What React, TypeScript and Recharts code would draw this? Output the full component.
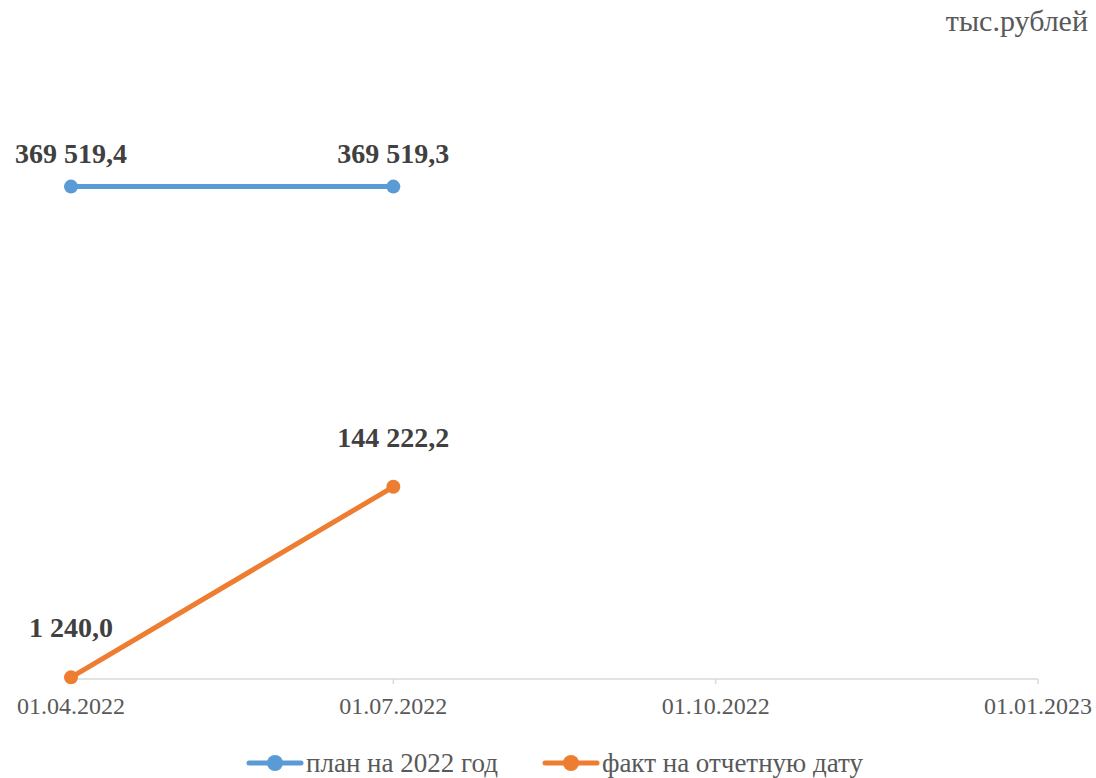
import { LineChart, Line, XAxis, YAxis, Legend, LabelList } from 'recharts'

const dates = ['01.04.2022', '01.07.2022', '01.10.2022', '01.01.2023']
const plan = [369519.4, 369519.3, null, null]
const fact = [1240.0, 144222.2, null, null]

const seriesNames = { plan: 'план на 2022 год', fact: 'факт на отчетную дату' }
const unitLabel = 'тыс.рублей'

const data = dates.map((d, i) => ({ date: d, plan: plan[i], fact: fact[i] }))

const font = 'Liberation Serif, Tinos, DejaVu Serif, serif'
const blue = '#5b9bd5'
const orange = '#ed7d31'

const fmt = (v: any) => {
  if (v == null) return ''
  const [int, dec] = Number(v).toFixed(1).split('.')
  return int.replace(/\B(?=(\d{3})+(?!\d))/g, ' ') + ',' + dec
}

function LegendContent() {
  const items = [
    { name: seriesNames.plan, color: blue },
    { name: seriesNames.fact, color: orange },
  ]
  return (
    <div style={{ display: 'flex', justifyContent: 'center', alignItems: 'center', height: 30, gap: 44, fontFamily: font, fontSize: 27, color: '#595959' }}>
      {items.map((it) => (
        <div key={it.name} style={{ display: 'flex', alignItems: 'center' }}>
          <svg width={58} height={18} style={{ marginRight: 2 }}>
            <line x1={3} y1={9} x2={55} y2={9} stroke={it.color} strokeWidth={5} strokeLinecap="round" />
            <circle cx={29} cy={9} r={8} fill={it.color} />
          </svg>
          <span>{it.name}</span>
        </div>
      ))}
    </div>
  )
}

export default function App() {
  return (
    <div style={{ position: 'absolute', left: 0, top: 0, width: 1096, height: 778, background: '#fff' }}>
      <div style={{ position: 'absolute', right: 8, top: 4, fontFamily: font, fontSize: 30, color: '#595959' }}>{unitLabel}</div>
      <LineChart width={1096} height={778} data={data} margin={{ top: 146, right: 58, left: 71, bottom: 29 }}>
        <XAxis
          dataKey="date"
          height={40}
          axisLine={{ stroke: '#d9d9d9', strokeWidth: 1.5 }}
          tickLine={{ stroke: '#d9d9d9', strokeWidth: 1.5 }}
          tickSize={5}
          tickMargin={13}
          interval={0}
          tick={{ fill: '#595959', fontSize: 24, fontFamily: font }}
        />
        <YAxis hide domain={[0, 400000]} />
        <Legend verticalAlign="bottom" content={<LegendContent />} wrapperStyle={{ bottom: 0 }} />
        <Line
          dataKey="plan"
          name={seriesNames.plan}
          stroke={blue}
          strokeWidth={5}
          dot={{ r: 7, fill: blue, stroke: blue, strokeWidth: 0 }}
          isAnimationActive={false}
        >
          <LabelList dataKey="plan" position="top" offset={24} formatter={fmt}
            style={{ fill: '#404040', fontSize: 28, fontWeight: 'bold', fontFamily: font }} />
        </Line>
        <Line
          dataKey="fact"
          name={seriesNames.fact}
          stroke={orange}
          strokeWidth={5}
          dot={{ r: 7, fill: orange, stroke: orange, strokeWidth: 0 }}
          isAnimationActive={false}
        >
          <LabelList dataKey="fact" position="top" offset={40} formatter={fmt}
            style={{ fill: '#404040', fontSize: 28, fontWeight: 'bold', fontFamily: font }} />
        </Line>
      </LineChart>
    </div>
  )
}
